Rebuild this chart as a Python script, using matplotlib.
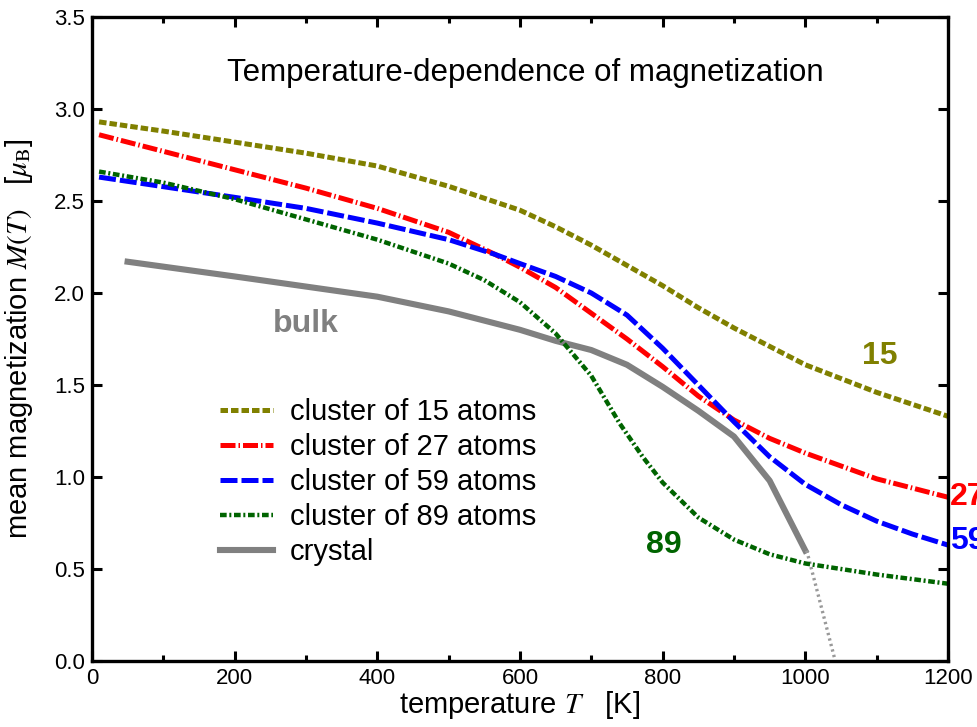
import matplotlib
matplotlib.use('Agg')
import matplotlib.pyplot as plt
from matplotlib.ticker import MultipleLocator, FormatStrFormatter

plt.rcParams['font.family'] = ['Liberation Sans', 'DejaVu Sans']
plt.rcParams['mathtext.fontset'] = 'stix'

# temperature (K) vs mean magnetization (mu_B)
T15 = [10, 100, 200, 300, 400, 500, 600, 650, 700, 750, 800, 850, 900, 950, 1000, 1100, 1200]
M15 = [2.93, 2.88, 2.82, 2.76, 2.69, 2.58, 2.45, 2.36, 2.26, 2.15, 2.04, 1.92, 1.81, 1.71, 1.61, 1.46, 1.33]

T27 = [10, 100, 200, 300, 400, 500, 565, 600, 650, 700, 750, 800, 850, 900, 950, 1000, 1050, 1100, 1150, 1200]
M27 = [2.86, 2.77, 2.67, 2.57, 2.46, 2.33, 2.21, 2.14, 2.03, 1.89, 1.75, 1.60, 1.44, 1.31, 1.21, 1.13, 1.06, 0.99, 0.94, 0.89]

T59 = [10, 200, 300, 400, 500, 565, 600, 650, 700, 750, 800, 850, 900, 950, 1000, 1050, 1100, 1150, 1200]
M59 = [2.63, 2.52, 2.46, 2.38, 2.29, 2.21, 2.16, 2.09, 2.00, 1.88, 1.70, 1.50, 1.30, 1.11, 0.96, 0.85, 0.76, 0.69, 0.63]

T89 = [10, 100, 200, 300, 400, 500, 550, 600, 650, 700, 740, 772, 800, 850, 900, 950, 1000, 1100, 1200]
M89 = [2.66, 2.60, 2.51, 2.40, 2.29, 2.16, 2.07, 1.95, 1.78, 1.55, 1.29, 1.11, 0.97, 0.78, 0.66, 0.58, 0.53, 0.47, 0.42]

T_bulk = [50, 200, 300, 400, 500, 600, 650, 700, 750, 800, 850, 900, 950, 1000]
M_bulk = [2.17, 2.09, 2.035, 1.98, 1.90, 1.80, 1.74, 1.69, 1.61, 1.49, 1.36, 1.22, 0.98, 0.60]
T_tail = [1002, 1042]
M_tail = [0.60, 0.0]

fig = plt.figure(figsize=(9.78, 7.27), dpi=100)
ax = fig.add_axes([0.094, 0.0908, 0.8753, 0.8858])

ax.plot(T_bulk, M_bulk, c='#808080', lw=4.4, label='crystal', zorder=2)
ax.plot(T_tail, M_tail, c='#999999', lw=2.4, ls=(0, (0.7, 1.0)), zorder=2)

ax.plot(T15, M15, c='#808000', lw=3.6, ls=(0, (1.5, 0.6)), label='cluster of 15 atoms')
ax.plot(T27, M27, c='#ff0000', lw=3.6, ls=(0, (3.0, 0.6, 0.3, 0.6)), label='cluster of 27 atoms')
ax.plot(T59, M59, c='#0000ff', lw=3.6, ls=(0, (3.4, 0.8)), label='cluster of 59 atoms')
ax.plot(T89, M89, c='#006400', lw=3.2, ls=(0, (1.5, 0.6, 0.45, 0.6)), label='cluster of 89 atoms')

handles, labels = ax.get_legend_handles_labels()
order = [1, 2, 3, 4, 0]
fig.legend([handles[i] for i in order], [labels[i] for i in order],
           loc='upper left', bbox_to_anchor=(0.225, 0.452), frameon=False,
           fontsize=21, handlelength=1.8, labelspacing=0.24, handletextpad=0.6,
           borderpad=0, borderaxespad=0)

ax.text(0.506, 0.913, 'Temperature-dependence of magnetization', transform=ax.transAxes,
        ha='center', va='center', fontsize=22.5)
ax.text(1105, 1.66, '15', color='#808000', fontsize=23, fontweight='bold', ha='center', va='center')
ax.text(802, 0.63, '89', color='#006400', fontsize=23, fontweight='bold', ha='center', va='center')
ax.text(300, 1.83, 'bulk', color='#808080', fontsize=23, fontweight='bold', ha='center', va='center')
ax.text(1203, 0.89, '27', color='#ff0000', fontsize=23, fontweight='bold', ha='left', va='center', clip_on=False)
ax.text(1203, 0.65, '59', color='#0000ff', fontsize=23, fontweight='bold', ha='left', va='center', clip_on=False)

ax.set_xlim(0, 1200)
ax.set_ylim(0, 3.5)
ax.xaxis.set_major_locator(MultipleLocator(200))
ax.xaxis.set_minor_locator(MultipleLocator(100))
ax.yaxis.set_major_locator(MultipleLocator(0.5))
ax.yaxis.set_major_formatter(FormatStrFormatter('%.1f'))

ax.tick_params(which='both', direction='in', top=True, right=True, labelsize=16, width=2.2, pad=5)
ax.tick_params(which='major', length=7)
ax.tick_params(which='minor', length=4)
for s in ax.spines.values():
    s.set_linewidth(2.4)

ax.set_xlabel(r'temperature $T$   [K]', fontsize=21, labelpad=0)
ax.set_ylabel(r'mean magnetization $M(T)$   [$\mu_\mathrm{B}$]', fontsize=21)
ax.yaxis.set_label_coords(-0.066, 0.5)

fig.savefig('out.png', dpi=100)
